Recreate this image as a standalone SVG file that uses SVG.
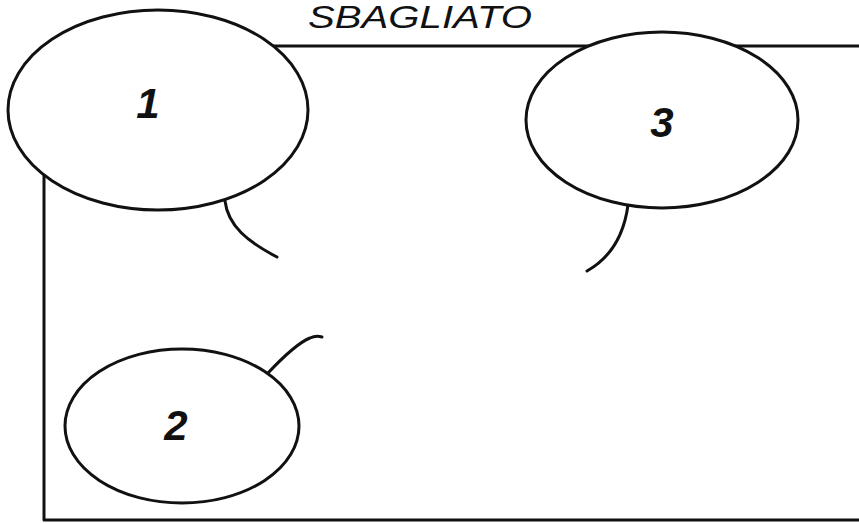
<svg xmlns="http://www.w3.org/2000/svg" width="859" height="523" viewBox="0 0 859 523">
  <style>
    .ln { fill: none; stroke: #111; stroke-width: 3; stroke-linecap: round; stroke-linejoin: round; }
    .node { fill: #fff; stroke: #111; stroke-width: 3; }
    .num { font-family: "Liberation Sans", Arial, sans-serif; font-size: 42px; font-weight: bold; font-style: italic; fill: #111; text-anchor: middle; }
    .title { font-family: "Liberation Sans", Arial, sans-serif; font-size: 31px; font-style: italic; fill: #111; }
  </style>
  <rect width="859" height="523" fill="#fff"/>
  <text class="title" x="308" y="28" textLength="224" lengthAdjust="spacingAndGlyphs">SBAGLIATO</text>
  <g id="frame">
    <path class="ln" d="M864,46 L44,46 L44,520 L864,520"/>
  </g>
  <g id="connectors">
    <path class="ln" d="M225,201 C228,226 248,242 277,257"/>
    <path class="ln" d="M628,205 C624,235 610,258 587,271"/>
    <path class="ln" d="M268,373 C284,356 300,342 310,338 Q316,335 322,337"/>
  </g>
  <g id="node1">
    <ellipse class="node" cx="158" cy="110" rx="150" ry="100"/>
    <text class="num" x="148" y="118">1</text>
  </g>
  <g id="node3">
    <ellipse class="node" cx="662" cy="120" rx="136" ry="88"/>
    <text class="num" x="662" y="137">3</text>
  </g>
  <g id="node2">
    <ellipse class="node" cx="182" cy="426" rx="117" ry="77"/>
    <text class="num" x="176" y="440">2</text>
  </g>
</svg>
